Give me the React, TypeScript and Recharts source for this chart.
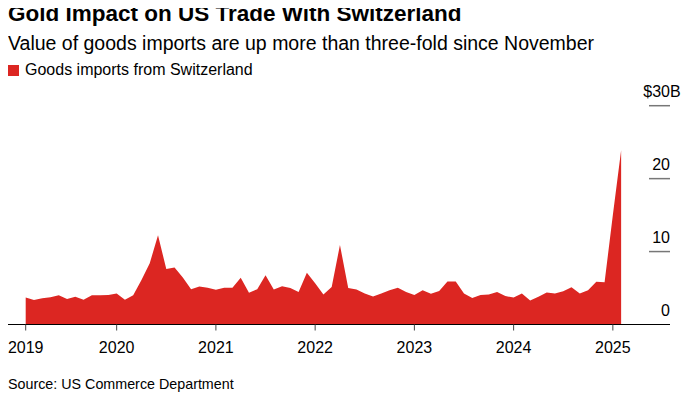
import { Area, AreaChart, XAxis, YAxis } from 'recharts';

// monthly goods imports from Switzerland, $B (first point = month 1)
const imports = [
  3.7, 3.35, 3.6, 3.75, 4.0, 3.5, 3.8, 3.4, 4.0, 4.0, 4.05, 4.25,
  3.4, 4.0, 6.1, 8.4, 12.25, 7.6, 7.8, 6.45, 4.85, 5.2, 5.05, 4.75,
  5.05, 5.05, 6.4, 4.35, 4.85, 6.75, 4.8, 5.25, 5.0, 4.45, 7.1, 5.65,
  4.1, 5.15, 10.9, 5.0, 4.8, 4.25, 3.85, 4.25, 4.7, 5.05, 4.45, 4.05,
  4.7, 4.2, 4.6, 5.9, 5.9, 4.25, 3.65, 4.05, 4.1, 4.45, 3.9, 3.7,
  4.25, 3.3, 3.8, 4.4, 4.25, 4.55, 5.1, 4.25, 4.7, 5.85, 5.8, 15.0, 23.9,
];
const startMonth = 1;
const yearTicks = [1, 12, 24, 36, 48, 60, 72];
const yearLabels = ['2019', '2020', '2021', '2022', '2023', '2024', '2025'];
const valueTicks = [0, 10, 20, 30];

const RED = '#dc2622';
const FONT = '"Liberation Sans", Arial, Helvetica, sans-serif';

const data = imports.map((v, i) => ({ m: startMonth + i, v }));

function ValueTick(props: any) {
  const { x, y, payload } = props;
  const v = payload.value;
  return (
    <g>
      {v !== 0 && <line x1={x - 21} x2={x} y1={y} y2={y} stroke="#777" strokeWidth={1.5} />}
      <text x={x} y={y - 9} textAnchor="end" fontSize={16} fill="#000" fontFamily={FONT}>
        {v === 30 ? '$30' : String(v)}
      </text>
      {v === 30 && (
        <text x={x} y={y - 9} textAnchor="start" fontSize={16} fill="#000" fontFamily={FONT}>
          B
        </text>
      )}
    </g>
  );
}

export default function App() {
  return (
    <div style={{ position: 'relative', width: 697, height: 402, margin: -8, background: '#fff', fontFamily: FONT, color: '#000' }}>
      <div style={{ position: 'absolute', left: 0, top: 0 }}>
        <AreaChart width={697} height={402} data={data} margin={{ top: 105.7, right: 0, bottom: 47.5, left: 8 }}>
          <XAxis
            dataKey="m"
            type="number"
            domain={[-1.14, 78.91]}
            ticks={yearTicks}
            tickFormatter={(t: number) => yearLabels[yearTicks.indexOf(t)]}
            axisLine={{ stroke: '#000', strokeWidth: 1 }}
            tickLine={{ stroke: '#444' }}
            tickSize={6}
            tickMargin={11.5}
            height={30}
            tick={{ fontSize: 16, fill: '#000', fontFamily: FONT }}
            interval={0}
          />
          <YAxis
            orientation="right"
            width={27}
            domain={[0, 30]}
            ticks={valueTicks}
            axisLine={false}
            tickLine={false}
            tickSize={0}
            tickMargin={0}
            tick={<ValueTick />}
            interval={0}
          />
          <Area type="linear" dataKey="v" fill={RED} fillOpacity={1} stroke="none" isAnimationActive={false} />
        </AreaChart>
      </div>
      <div style={{ position: 'absolute', left: 8, top: 1.2, fontSize: 22.5, lineHeight: '26px', fontWeight: 700, whiteSpace: 'nowrap' }}>
        Gold Impact on US Trade With Switzerland
      </div>
      <div style={{ position: 'absolute', left: 8, top: 31.5, fontSize: 19.5, lineHeight: '22px', whiteSpace: 'nowrap' }}>
        Value of goods imports are up more than three-fold since November
      </div>
      <div style={{ position: 'absolute', left: 8, top: 64.5, width: 11, height: 11, background: RED }} />
      <div style={{ position: 'absolute', left: 25, top: 61.2, fontSize: 16, lineHeight: '18px', whiteSpace: 'nowrap' }}>
        Goods imports from Switzerland
      </div>
      <div style={{ position: 'absolute', left: 8, top: 376, fontSize: 14.3, lineHeight: '16px', whiteSpace: 'nowrap' }}>
        Source: US Commerce Department
      </div>
    </div>
  );
}
